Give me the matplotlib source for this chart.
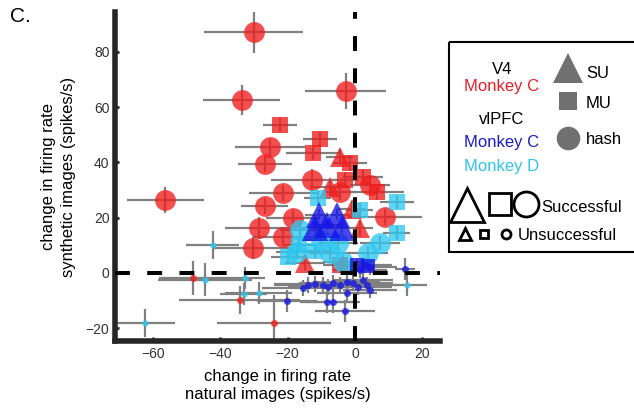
import matplotlib
matplotlib.use("Agg")
import matplotlib.pyplot as plt
from matplotlib.patches import Rectangle

plt.rcParams['font.family'] = ['Liberation Sans', 'DejaVu Sans']

# V4, monkey C
v4_hash_x = [-30.1, -33.6, -2.7, -56.3, -25.3, -26.8, -12.8, -21.4, -26.8, -28.6, -30.4, -21.4, -18.5, 8.9, 4.5, -4.5]
v4_hash_y = [87.2, 62.6, 65.8, 26.4, 45.6, 39.4, 33.6, 28.9, 24.2, 16.3, 9.0, 13.0, 19.9, 20.2, 31.8, 29.3]
v4_hash_xe = [14.6, 11.4, 12.0, 11.5, 10.4, 8.0, 12.0, 10.0, 7.0, 10.0, 12.0, 9.0, 8.0, 11.0, 6.0, 5.0]
v4_hash_ye = [7.8, 5.4, 6.5, 4.7, 3.0, 3.0, 4.0, 3.0, 3.0, 4.0, 4.0, 3.0, 3.0, 3.0, 3.0, 3.0]

v4_mu_x = [-22.3, -10.4, -12.5, -1.5, 2.4, 6.5, -3.0, -4.5]
v4_mu_y = [53.5, 48.6, 43.4, 39.8, 34.7, 29.3, 33.6, 2.9]
v4_mu_xe = [5.0, 5.0, 8.0, 5.0, 6.0, 8.0, 4.0, 5.0]
v4_mu_ye = [2.5, 2.5, 2.5, 3.0, 3.0, 3.0, 3.0, 3.0]

v4_su_x = [-4.5, -7.4, 1.5, -14.9, -1.0]
v4_su_y = [42.0, 31.0, 16.3, 3.6, 23.0]
v4_su_xe = [4.0, 6.0, 4.0, 6.0, 4.0]
v4_su_ye = [3.0, 3.0, 3.0, 3.0, 3.0]

v4_uns_x = [-48.2, -34.2, -24.1]
v4_uns_y = [-1.8, -9.8, -18.0]
v4_uns_xe = [10.0, 18.0, 17.0]
v4_uns_ye = [6.0, 5.0, 10.0]

# vlPFC, monkey C
pfc_c_su_x = [-10.7, -11.9, -5.4, -3.9, -8.3]
pfc_c_su_y = [21.0, 16.3, 21.0, 16.3, 17.4]
pfc_c_su_xe = [4.0, 4.0, 4.0, 4.0, 4.0]
pfc_c_su_ye = [2.0, 2.0, 2.0, 2.0, 2.0]

pfc_c_mu_x = [0.5, 3.8]
pfc_c_mu_y = [3.0, 2.5]
pfc_c_mu_xe = [5.0, 5.0]
pfc_c_mu_ye = [2.0, 2.0]

pfc_c_uns_x = [-20.2, -3.0, -8.3, -6.5, 15.0, -15.5, -14.0, -11.9, -9.5, -8.0, -6.5, -4.5, -2.4, -0.6, 0.9,
               2.4, 3.6, 4.5, 1.5, 3.0, 4.5, -2.4]
pfc_c_uns_y = [-10.0, -13.7, -10.5, -10.5, 1.4, -5.4, -4.3, -4.0, -4.3, -5.1, -3.6, -4.3, -3.3, -3.6, -5.1,
               -2.5, -4.3, -6.1, 1.1, 2.9, 2.2, -7.2]
pfc_c_uns_xe = [9.0, 9.0, 8.0, 8.0, 3.0, 12.0, 10.0, 12.0, 10.0, 12.0, 10.0, 12.0, 10.0, 12.0, 10.0,
                9.0, 9.0, 8.0, 8.0, 8.0, 8.0, 9.0]
pfc_c_uns_ye = [4.0, 4.0, 4.0, 4.0, 4.0, 3.0, 3.0, 3.0, 3.0, 3.0, 3.0, 3.0, 3.0, 3.0, 3.0,
                3.0, 3.0, 3.0, 3.0, 3.0, 3.0, 3.0]

# vlPFC, monkey D
pfc_d_mu_x = [-11.0, 1.5, 12.5, 12.5, -20.0, -16.5, -12.0]
pfc_d_mu_y = [27.0, 22.8, 25.7, 14.5, 5.8, 10.0, 8.0]
pfc_d_mu_xe = [4.0, 4.0, 5.0, 4.0, 5.0, 5.0, 5.0]
pfc_d_mu_ye = [2.5, 2.5, 2.5, 2.5, 2.5, 2.5, 2.5]

pfc_d_hash_x = [7.4, -7.4, -16.4, 3.9, -3.6, -17.3, -10.0, -5.0]
pfc_d_hash_y = [10.8, 7.2, 15.5, 7.2, 4.0, 7.6, 12.0, 11.0]
pfc_d_hash_xe = [6.0, 6.0, 6.0, 6.0, 6.0, 6.0, 6.0, 6.0]
pfc_d_hash_ye = [2.5, 2.5, 2.5, 2.5, 2.5, 2.5, 2.5, 2.5]

pfc_d_uns_x = [-42.3, -44.6, -62.5, -32.7, -33.0, -28.6, 15.5]
pfc_d_uns_y = [10.1, -2.5, -18.0, -1.8, -7.6, -7.2, -4.3]
pfc_d_uns_xe = [8.0, 14.0, 9.0, 6.0, 7.0, 10.0, 6.0]
pfc_d_uns_ye = [5.0, 6.0, 5.0, 4.0, 4.0, 4.0, 4.0]

red = '#f01e1e'
blue = '#1414e6'
cyan = '#2ec8f0'
err_col = '#808080'

groups = [
    (v4_hash_x, v4_hash_y, v4_hash_xe, v4_hash_ye, 'o', 15, red),
    (v4_mu_x, v4_mu_y, v4_mu_xe, v4_mu_ye, 's', 12, red),
    (v4_su_x, v4_su_y, v4_su_xe, v4_su_ye, '^', 15, red),
    (v4_uns_x, v4_uns_y, v4_uns_xe, v4_uns_ye, 'o', 5, red),
    (pfc_d_mu_x, pfc_d_mu_y, pfc_d_mu_xe, pfc_d_mu_ye, 's', 12, cyan),
    (pfc_d_hash_x, pfc_d_hash_y, pfc_d_hash_xe, pfc_d_hash_ye, 'o', 15, cyan),
    (pfc_d_uns_x, pfc_d_uns_y, pfc_d_uns_xe, pfc_d_uns_ye, 'o', 4.5, cyan),
    (pfc_c_su_x, pfc_c_su_y, pfc_c_su_xe, pfc_c_su_ye, '^', 19, blue),
    (pfc_c_mu_x, pfc_c_mu_y, pfc_c_mu_xe, pfc_c_mu_ye, 's', 10, blue),
    (pfc_c_uns_x, pfc_c_uns_y, pfc_c_uns_xe, pfc_c_uns_ye, 'o', 5, blue),
]

fig = plt.figure(figsize=(6.34, 4.09), dpi=100)
ax = fig.add_axes([115/634, 1 - 341/409, 325/634, 329/409])

for gx, gy, gxe, gye, m, ms, c in groups:
    ax.errorbar(gx, gy, xerr=gxe, yerr=gye, fmt='none', ecolor=err_col, elinewidth=1.6,
                capsize=0, zorder=1)
for gx, gy, gxe, gye, m, ms, c in groups:
    ax.plot(gx, gy, linestyle='none', marker=m, markersize=ms, color=c, alpha=0.78,
            markeredgewidth=0, zorder=2)

ax.axhline(0, color='black', lw=2.9, ls=(0, (3.7, 4.3)), zorder=5)
ax.axvline(0, color='black', lw=2.9, ls=(0, (3.7, 4.3)), zorder=5)

ax.set_xlim(-71.3, 25.3)
ax.set_ylim(-24.6, 94.4)
ax.set_xticks([-60, -40, -20, 0, 20])
ax.set_yticks([-20, 0, 20, 40, 60, 80])
for s in ['top', 'right']:
    ax.spines[s].set_visible(False)
for s in ['left', 'bottom']:
    ax.spines[s].set_linewidth(4)
    ax.spines[s].set_color('#262626')
ax.tick_params(direction='in', length=3, width=2, color='#262626', labelcolor='#333333',
               labelsize=10, pad=4)
ax.set_xlabel('change in firing rate\nnatural images (spikes/s)', fontsize=12, linespacing=1.25,
              labelpad=6)
ax.set_ylabel('change in firing rate\nsynthetic images (spikes/s)', fontsize=12, linespacing=1.45,
              labelpad=7)

fig.text(10/634, 1 - 22/409, 'C.', fontsize=15)

# legend drawn in pixel space
lg = fig.add_axes([0, 0, 1, 1])
lg.set_xlim(0, 634)
lg.set_ylim(409, 0)
lg.axis('off')
lg.add_patch(Rectangle((449, 42), 200, 210, fill=False, edgecolor='black', lw=1.5))
fs = 12
lg.text(502, 70, 'V4', ha='center', va='center', fontsize=fs, color='black')
lg.text(502, 87, 'Monkey C', ha='center', va='center', fontsize=fs, color='#e6202a')
lg.text(502, 119, 'vlPFC', ha='center', va='center', fontsize=fs, color='black')
lg.text(502, 143, 'Monkey C', ha='center', va='center', fontsize=fs, color='#1c1cc8')
lg.text(502, 167, 'Monkey D', ha='center', va='center', fontsize=fs, color='#30c4ec')
gray = '#707070'
lg.plot([568], [68], marker='^', ms=22, color=gray, mew=0)
lg.plot([568], [101], marker='s', ms=13, color=gray, mew=0)
lg.plot([568], [138], marker='o', ms=17, color=gray, mew=0)
lg.text(586, 74, 'SU', va='center', fontsize=fs)
lg.text(586, 103, 'MU', va='center', fontsize=fs)
lg.text(586, 139, 'hash', va='center', fontsize=fs)
lg.plot([467], [205], marker='^', ms=24, mfc='none', mec='black', mew=2)
lg.plot([500], [204], marker='s', ms=16, mfc='none', mec='black', mew=2)
lg.plot([526], [204], marker='o', ms=18, mfc='none', mec='black', mew=2)
lg.text(541, 207, 'Successful', va='center', fontsize=fs)
lg.plot([465], [234], marker='^', ms=8, mfc='none', mec='black', mew=2)
lg.plot([484], [234], marker='s', ms=5.5, mfc='none', mec='black', mew=2)
lg.plot([506], [234], marker='o', ms=6.5, mfc='none', mec='black', mew=2)
lg.text(518, 236, 'Unsuccessful', va='center', fontsize=fs)

fig.savefig('out.png', dpi=100)
